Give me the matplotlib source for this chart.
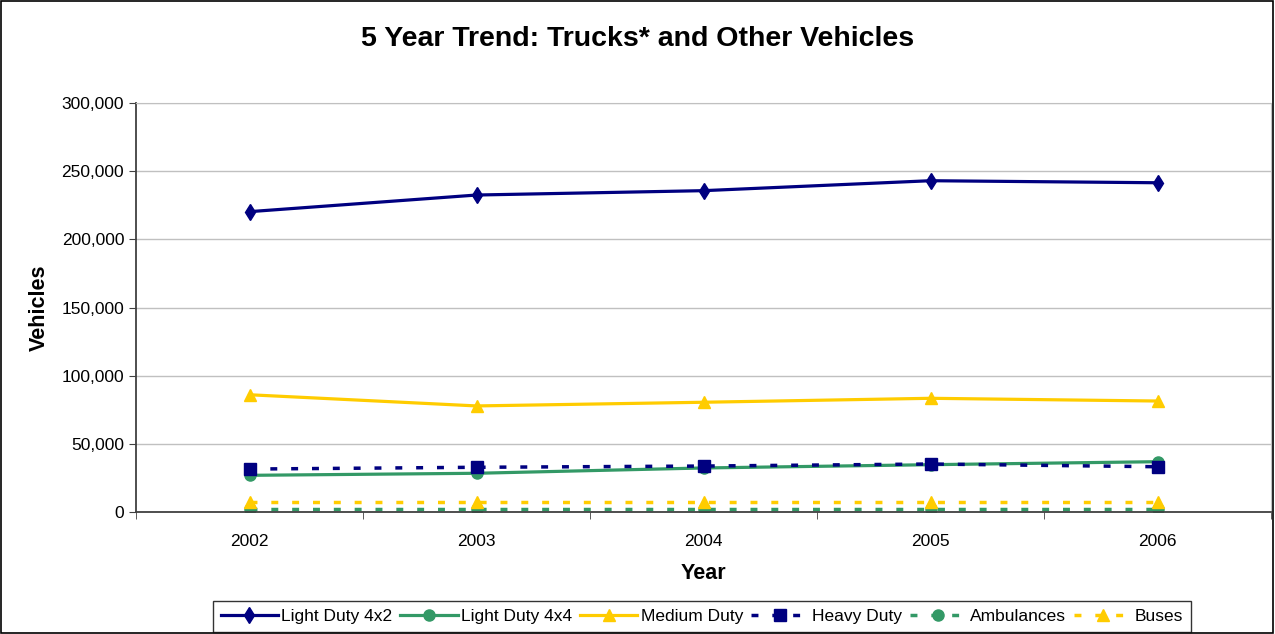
import matplotlib.pyplot as plt
import numpy as np

plt.rcParams['font.family'] = ['Liberation Sans', 'DejaVu Sans']

years = ['2002', '2003', '2004', '2005', '2006']
light_4x2 = [220300, 232500, 235700, 243000, 241500]
light_4x4 = [26900, 28400, 32300, 34700, 36900]
medium = [86000, 77800, 80500, 83400, 81400]
heavy = [31500, 32800, 33700, 35200, 33200]
ambulances = [2000, 2000, 2000, 2000, 2000]
buses = [7600, 7600, 7600, 7600, 7600]

navy = '#000080'
green = '#339966'
gold = '#ffcc00'

fig = plt.figure(figsize=(12.75, 6.34), dpi=100)
ax = fig.add_axes([136/1275, 1-512/634, (1271-136)/1275, (512-103)/634])
x = np.arange(len(years))

ax.plot(x, light_4x2, color=navy, lw=2.3, marker='d', ms=8, label='Light Duty 4x2')
ax.plot(x, light_4x4, color=green, lw=2.3, marker='o', ms=8, label='Light Duty 4x4')
ax.plot(x, medium, color=gold, lw=2.3, marker='^', ms=9, label='Medium Duty')
ax.plot(x, heavy, color=navy, lw=2.5, ls=(0, (2, 4)), dash_capstyle='butt',
        marker='s', ms=9, label='Heavy Duty')
ax.plot(x, ambulances, color=green, lw=2.5, ls=(0, (2, 4)), dash_capstyle='butt',
        marker='o', ms=8, label='Ambulances')
ax.plot(x, buses, color=gold, lw=2.5, ls=(0, (2, 4)), dash_capstyle='butt',
        marker='^', ms=9, label='Buses')

ax.set_xlim(-0.5, 4.5)
ax.set_ylim(0, 300000)
ax.set_yticks(np.arange(0, 300001, 50000))
ax.set_yticklabels([f'{v:,}' for v in range(0, 300001, 50000)])
ax.set_xticks(x)
ax.set_xticklabels(years)
ax.set_xticks(np.arange(-0.5, 5, 1), minor=True)
ax.tick_params(axis='x', which='major', length=0, pad=16, labelsize=12.5)
ax.tick_params(axis='x', which='minor', length=5, direction='out', color='#404040')
ax.tick_params(axis='y', length=5, labelsize=12.5, color='#404040')
ax.yaxis.grid(True, color='#c0c0c0', lw=1)
ax.set_axisbelow(True)
for s in ['top', 'right']:
    ax.spines[s].set_color('#c0c0c0')
for s in ['left', 'bottom']:
    ax.spines[s].set_color('#404040')
    ax.spines[s].set_linewidth(1.3)

ax.set_xlabel('Year', fontsize=15.5, fontweight='bold', labelpad=10)
ax.set_ylabel('Vehicles', fontsize=15.5, fontweight='bold', labelpad=8)
fig.text(0.5, 1-39/634, '5 Year Trend: Trucks* and Other Vehicles', ha='center', va='center',
         fontsize=20.5, fontweight='bold')

leg = fig.legend(loc='center', bbox_to_anchor=(702/1275, 1-616.5/634), ncol=6, fontsize=12.5,
                 frameon=True, fancybox=False, edgecolor='black', handlelength=3.3,
                 handletextpad=0.2, columnspacing=0.45, borderpad=0.45)
leg.get_frame().set_linewidth(1)

fig.patches.append(plt.Rectangle((0.0005, 0.0008), 0.998, 0.998, transform=fig.transFigure,
                                 fill=False, edgecolor='black', lw=1.2))

fig.savefig('out.png', dpi=100)
